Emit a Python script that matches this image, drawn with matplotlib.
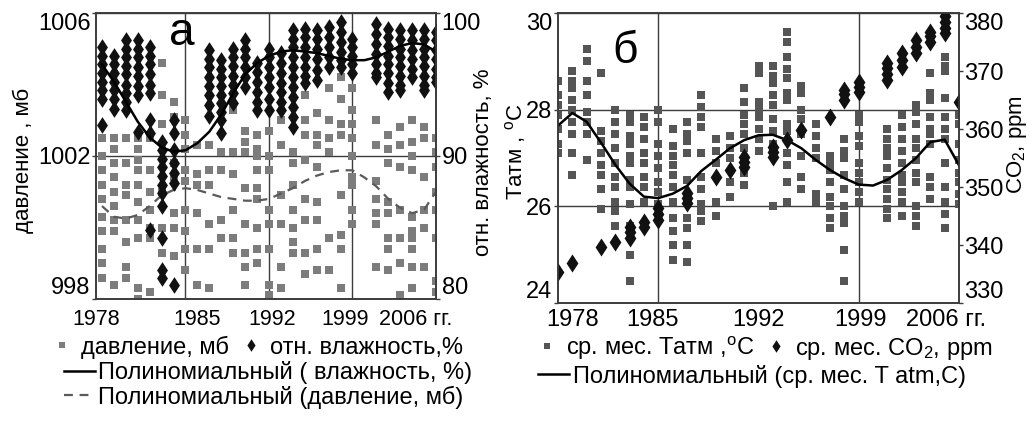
import matplotlib
matplotlib.use('Agg')
import matplotlib.pyplot as plt
from matplotlib.lines import Line2D

plt.rcParams['font.family'] = ['Liberation Sans', 'DejaVu Sans']
plt.rcParams['mathtext.fontset'] = 'custom'
plt.rcParams['mathtext.rm'] = 'Liberation Sans'
plt.rcParams['mathtext.it'] = 'Liberation Sans:italic'

years = list(range(1978, 2007))

# panel a: monthly pressure (mb) per year
pressure = [
    [1002.5, 1002.0, 1001.6, 1001.2, 1000.8, 1000.3, 999.9, 999.4, 999.0, 998.6],
    [1002.5, 1002.2, 1001.8, 1001.4, 1001.0, 1000.6, 1000.2, 999.9, 998.4],
    [1002.5, 1001.8, 1001.2, 1000.9, 1000.2, 999.6, 998.9, 998.6],
    [1002.5, 1002.2, 1001.9, 1001.6, 1001.2, 1000.7, 1000.2, 999.7, 998.3, 998.0],
    [1002.5, 1001.6, 1001.0, 1000.5, 1000.0, 999.7, 998.2],
    [1004.6, 1003.7, 1002.9, 1001.0, 1000.0, 999.3],
    [1003.5, 1003.1, 1001.8, 1001.4, 1000.4, 1000.0, 999.2],
    [1003.0, 1002.6, 1002.2, 1001.6, 1001.3, 1000.5, 999.9, 999.4, 998.8],
    [1002.3, 1001.5, 1001.2, 1000.4, 999.4, 998.4],
    [1002.3, 1001.6, 1001.2, 1000.1, 999.4, 998.3],
    [1002.1, 1001.6, 1000.2, 999.7],
    [1003.3, 1002.1, 1001.5, 1000.5, 999.7, 999.3],
    [1002.7, 1002.4, 1002.1, 1001.1, 1000.1, 999.3, 998.9, 998.4],
    [1002.6, 1002.2, 1002.0, 1001.6, 1001.1, 1000.8, 1000.0, 999.4, 999.0],
    [1002.7, 1002.0, 1001.6, 1000.5, 1000.1, 999.4, 998.4, 998.1],
    [1003.0, 1002.3, 1000.9, 1000.1, 998.9, 998.3],
    [1002.1, 1001.8, 1001.2, 1000.5, 1000.0, 999.6, 999.3],
    [1003.7, 1003.0, 1002.6, 1001.9, 1000.8, 1000.2, 999.3, 998.7],
    [1003.2, 1002.6, 1002.3, 1001.7, 1000.7, 1000.2, 999.4, 998.8],
    [1003.9, 1003.0, 1002.5, 1002.1, 999.7, 998.8],
    [1004.2, 1003.6, 1002.9, 1002.6, 1000.9, 999.8, 999.4, 998.3],
    [1003.9, 1003.3, 1002.9, 1002.5, 1002.0, 1001.4, 1001.2, 1000.5, 1000.1],
    [],
    [1003.0, 1002.3, 1001.3, 1000.8, 1000.4, 1000.1, 998.9],
    [1002.6, 1002.2, 1001.8, 1000.7, 1000.4, 999.7, 999.4, 998.8],
    [1002.8, 1002.3, 1001.7, 1000.5, 999.7, 999.0, 998.1],
    [1003.0, 1002.4, 1002.0, 1001.6, 1000.3, 999.9, 999.7, 999.4, 998.9, 998.3],
    [1002.8, 1002.5, 1001.4, 1000.5, 1000.0, 998.9],
    [1002.5, 1002.1, 1001.7, 1001.0, 1000.5, 999.7, 998.5, 998.2],
]

# panel a: monthly relative humidity (%) per year
humidity = [
    [97.6, 97.0, 96.4, 95.8, 95.2, 94.6, 94.0, 92.2],
    [97.0, 96.4, 95.8, 95.2, 94.6, 94.0, 93.3],
    [98.1, 97.5, 96.9, 96.3, 95.7, 95.0, 94.4, 93.8, 93.2],
    [98.1, 97.5, 96.9, 96.2, 95.6, 94.9, 94.3, 91.7],
    [97.6, 97.0, 96.4, 95.7, 95.0, 94.4, 92.5, 91.6, 84.8],
    [91.0, 90.4, 89.8, 89.2, 88.6, 88.0, 87.4, 86.5, 84.3, 82.0, 81.5],
    [92.5, 91.6, 90.4, 89.5, 88.8, 88.1, 81.0],
    [],
    [],
    [97.4, 96.8, 96.2, 95.5, 94.9, 94.3, 93.6, 92.8],
    [96.7, 96.1, 95.5, 94.9, 94.3, 93.7, 93.1, 92.5, 91.6],
    [97.5, 96.9, 96.3, 95.6, 95.0, 94.4, 93.7],
    [98.1, 97.5, 96.9, 96.2, 95.5, 94.8],
    [96.5, 95.9, 95.2, 94.5, 93.8, 93.2],
    [97.5, 96.9, 96.2, 95.5, 94.8, 94.0, 93.2],
    [97.2, 96.5, 95.8, 95.1, 94.5, 93.8, 93.2],
    [98.8, 98.2, 97.6, 96.9, 96.2, 95.5, 94.8, 94.1, 93.4, 92.7, 92.05],
    [98.9, 98.3, 97.6, 96.9, 96.2, 95.6, 95.1],
    [98.8, 98.2, 97.5, 96.8, 96.0, 95.3],
    [99.0, 98.3, 97.6, 96.9, 96.2],
    [99.4, 98.7, 98.0, 97.3, 96.7, 96.2],
    [98.2, 97.6, 97.0, 96.4, 95.8],
    [],
    [99.2, 98.5, 97.8, 97.1, 96.4, 95.8, 95.5],
    [98.9, 98.3, 97.7, 97.0, 96.4, 95.8, 95.1, 94.5],
    [98.8, 98.2, 97.5, 96.9, 96.3, 95.6, 95.0, 94.6],
    [98.8, 98.1, 97.4, 96.8, 96.1, 95.5],
    [98.8, 98.2, 97.5, 96.9, 96.3, 95.6, 95.0, 94.6],
    [98.7, 98.1, 97.4, 96.8, 96.1, 95.5, 95.2],
]

humidity_trend = [96.4, 95.2, 93.8, 92.4, 91.3, 90.6, 90.3, 90.4, 90.9, 91.7,
                  92.9, 94.4, 95.7, 96.5, 97.0, 97.3, 97.4, 97.3, 97.2, 97.0,
                  96.8, 96.7, 96.7, 96.9, 97.3, 97.7, 97.9, 97.8, 97.3]
pressure_trend = [1000.6, 1000.3, 1000.25, 1000.35, 1000.6, 1000.9, 1001.05, 1001.1,
                  1001.05, 1000.95, 1000.85, 1000.8, 1000.75, 1000.75, 1000.8,
                  1000.95, 1001.1, 1001.3, 1001.45, 1001.55, 1001.6, 1001.6,
                  1001.4, 1001.15, 1000.8, 1000.55, 1000.4, 1000.5, 1001.0]

# panel b: monthly mean air temperature (C) per year
temperature = [
    [28.6, 28.3, 28.1, 27.9, 27.6, 27.3, 27.1],
    [28.8, 28.6, 28.45, 28.2, 28.0, 27.75, 27.5, 27.1, 26.65],
    [29.25, 29.0, 28.6, 28.3, 27.95, 27.75, 27.5, 26.95],
    [28.75, 27.55, 27.35, 27.1, 26.85, 26.65, 26.35, 25.95],
    [28.0, 27.75, 27.5, 27.2, 26.9, 26.6, 26.4, 26.1, 25.9, 25.6],
    [27.9, 27.75, 27.45, 27.3, 27.05, 26.9, 26.55, 26.4, 26.05, 25.6, 25.0, 24.45],
    [27.85, 27.65, 27.4, 27.1, 26.9, 26.6, 26.4, 26.1],
    [28.0, 27.75, 27.3, 27.05, 26.8, 26.5, 26.3, 26.05],
    [27.6, 27.25, 27.05, 26.85, 26.65, 26.4, 26.1, 25.75, 25.5, 25.2, 24.9],
    [27.75, 27.5, 27.35, 27.1, 26.55, 26.1, 25.75, 25.55, 25.2, 24.85],
    [28.3, 28.05, 27.85, 27.65, 27.1, 26.6, 26.35, 26.05, 25.9, 25.7],
    [27.4, 27.15, 26.9, 26.1, 25.8],
    [27.45, 27.2, 27.0, 26.5, 26.2],
    [28.45, 28.15, 27.9, 27.7, 27.5, 27.2, 26.95, 26.7, 26.45],
    [28.9, 28.75, 28.15, 28.0, 27.85, 27.6, 27.4, 27.15],
    [28.9, 28.7, 28.55, 28.3, 28.1, 27.8, 27.55, 27.3, 26.0],
    [29.6, 29.4, 29.1, 28.85, 28.65, 28.35, 28.2, 27.7, 27.55, 27.1, 26.85, 26.5, 26.1],
    [28.5, 28.35, 28.0, 27.8, 27.5, 27.05, 26.6, 26.35],
    [27.7, 27.45, 27.2, 27.0, 26.25, 26.1],
    [27.05, 26.9, 26.75, 26.5, 26.2, 26.0, 25.75, 25.55],
    [27.4, 27.15, 27.0, 26.65, 26.35, 26.0, 25.8, 25.65, 25.1, 24.45],
    [27.9, 27.75, 27.45, 27.25, 26.9, 26.7, 26.5, 26.3, 26.1],
    [],
    [27.6, 27.4, 27.2, 27.05, 26.8, 26.55, 26.35, 26.15, 25.95, 25.75],
    [27.9, 27.65, 27.4, 27.15, 26.9, 26.65, 26.5, 26.3, 26.1, 25.8],
    [28.1, 27.95, 27.7, 27.4, 27.2, 26.95, 26.7, 26.5, 26.0, 25.8, 25.6],
    [28.75, 28.35, 28.2, 27.85, 27.6, 27.5, 27.3, 26.6, 26.4, 26.15],
    [29.1, 28.9, 28.8, 28.25, 27.85, 27.6, 27.4, 26.9, 26.4, 26.1, 25.85, 25.55],
    [27.9, 27.7, 27.3, 26.95, 26.7, 26.5, 26.25, 26.05],
]

# panel b: monthly mean CO2 (ppm) per year
co2 = [
    [335.3], [336.9], [], [339.7], [340.5], [341.2, 342.2, 343.1],
    [343.1, 344.0], [344.3, 345.3, 346.3], [], [347.2, 348.1, 349.0], [],
    [351.7], [352.9], [353.4, 354.3, 355.2], [], [355.2, 356.0, 356.9],
    [358.1], [359.8], [], [362.1], [365.0, 366.0, 366.7],
    [366.4, 367.3, 368.1], [], [368.4, 369.5, 370.5, 371.4],
    [370.7, 371.9, 373.1], [373.1, 374.2, 375.3], [375.0, 376.0, 376.7],
    [376.5, 377.5, 378.5, 379.5, 380.3], [364.6],
]

temperature_trend = [27.67, 27.93, 27.75, 27.32, 26.86, 26.47, 26.2, 26.17, 26.26,
                     26.42, 26.73, 26.96, 27.2, 27.37, 27.47, 27.48, 27.37, 27.2,
                     26.96, 26.75, 26.58, 26.45, 26.43, 26.55, 26.75, 27.0, 27.33,
                     27.38, 26.85]

labels_a = ['1978', '1985', '1992', '1999', '2006 гг.']
labels_b = ['1978', '1985', '1992', '1999', '2006 гг.']


def flat(values):
    xs, ys = [], []
    for yr, vals in zip(years, values):
        xs += [yr] * len(vals)
        ys += vals
    return xs, ys


W, H = 1032, 421
diamond = [(0, 1.3), (0.85, 0), (0, -1.3), (-0.85, 0), (0, 1.3)]
grid_c = '#3c3c3c'
FS = 17

fig = plt.figure(figsize=(W / 100, H / 100), dpi=100)

ax1 = fig.add_axes([96 / W, 1 - 299 / H, 340 / W, 286 / H])
ax1r = ax1.twinx()
ax2 = fig.add_axes([558 / W, 1 - 303 / H, 401 / W, 290 / H])
ax2r = ax2.twinx()

# --- panel a
px, py = flat(pressure)
ax1.plot(px, py, 's', ms=5.2, color='#7c7c7c', mew=0, zorder=2)
ax1.plot(years, pressure_trend, color='#5a5a5a', lw=1.6, ls=(0, (4, 3)), zorder=3)
hx, hy = flat(humidity)
ax1r.plot(hx, hy, ls='none', marker=diamond, ms=12, color='#111111', mew=0)
ax1r.plot(years, humidity_trend, color='black', lw=1.8)

ax1.set_xlim(1978, 2006)
ax1.set_ylim(998, 1006)
ax1r.set_ylim(80, 100)
ax1.set_yticks([998, 1002, 1006])
ax1r.set_yticks([80, 90, 100])
ax1.set_xticks([1977.5, 1986.0, 1992.3, 1998.4, 2004.3], labels_a)
ax1.set_xticks([1985, 1992, 1999], minor=True)

# --- panel b
tx, ty = flat(temperature)
ax2.plot(tx, ty, 's', ms=6.0, color='#555555', mew=0, zorder=2)
ax2.plot(years, temperature_trend, color='black', lw=1.8, zorder=3)
cx, cy = flat(co2)
ax2r.plot(cx, cy, ls='none', marker=diamond, ms=13, color='#111111', mew=0)

ax2.set_xlim(1978, 2006)
ax2.set_ylim(24, 30)
ax2r.set_ylim(330, 380)
ax2.set_yticks([24, 26, 28, 30])
ax2r.set_yticks([330, 340, 350, 360, 370, 380])
ax2.set_xticks([1979.0, 1984.6, 1992.0, 1999.1, 2005.1], labels_b)
ax2.set_xticks([1985, 1992, 1999], minor=True)

for ax, xfs, xpad in ((ax1, 15.5, 7), (ax2, FS, 4)):
    ax.grid(axis='y', color=grid_c, lw=1)
    ax.grid(axis='x', which='minor', color=grid_c, lw=1)
    ax.set_axisbelow(True)
    ax.tick_params(axis='x', which='both', length=0, labelsize=xfs, pad=xpad)
    ax.tick_params(axis='y', length=3, width=1, color=grid_c, labelsize=FS, pad=1)
for ax in (ax1r, ax2r):
    ax.tick_params(axis='y', length=3, width=1, color=grid_c, labelsize=FS, pad=1)
for ax in (ax1, ax1r, ax2, ax2r):
    for s in ax.spines.values():
        s.set_color(grid_c)
        s.set_linewidth(1.2)
    # end labels sit inside the axis span, as in the original
    lbls = ax.get_yticklabels()
    lbls[0].set_verticalalignment('bottom')
    lbls[-1].set_verticalalignment('top')

# axis titles
fig.text(23 / W, 1 - 160 / H, 'давление , мб', rotation=90, ha='center', va='center', fontsize=16)
fig.text(483 / W, 1 - 162 / H, 'отн. влажность, %', rotation=90, ha='center', va='center', fontsize=16)
fig.text(516 / W, 1 - 152 / H, 'Tатм , $^{\\mathregular{o}}$C', rotation=90, ha='center', va='center', fontsize=16)
fig.text(1017 / W, 1 - 145 / H, 'CO$_{\\mathregular{2}}$, ppm', rotation=90, ha='center', va='center', fontsize=16)
fig.text(182 / W, 1 - 45 / H, 'а', ha='center', va='baseline', fontsize=33)
fig.text(625 / W, 1 - 63 / H, 'б', ha='center', va='baseline', fontsize=32)

# legends
sq_a = Line2D([], [], ls='none', marker='s', ms=4.5, color='#7c7c7c', mew=0)
sq_b = Line2D([], [], ls='none', marker='s', ms=4.5, color='#555555', mew=0)
dia = Line2D([], [], ls='none', marker=diamond, ms=9, color='#111111', mew=0)
solid = Line2D([], [], color='black', lw=1.8)
dashed = Line2D([], [], color='#5a5a5a', lw=1.6, ls=(0, (4, 3)))

kw = dict(loc='center', frameon=False, fontsize=FS, borderpad=0, handlelength=1.3,
          handletextpad=0.15, columnspacing=0.3, labelspacing=0.05)
fig.legend([sq_a, dia], ['давление, мб', 'отн. влажность,%'], ncol=2,
           bbox_to_anchor=(255 / W, 1 - 347 / H), **kw)
fig.legend([solid, dashed], ['Полиномиальный ( влажность, %)', 'Полиномиальный (давление, мб)'],
           bbox_to_anchor=(268 / W, 1 - 385 / H), **kw)
fig.legend([sq_b, dia], ['ср. мес. Tатм ,$^{\\mathregular{o}}$C', 'ср. мес. CO$_{\\mathregular{2}}$, ppm'],
           ncol=2, bbox_to_anchor=(762 / W, 1 - 348 / H), **kw)
fig.legend([solid], ['Полиномиальный (ср. мес. T atm,C)'],
           bbox_to_anchor=(752 / W, 1 - 376 / H), **kw)

fig.savefig('out.png', dpi=100)
